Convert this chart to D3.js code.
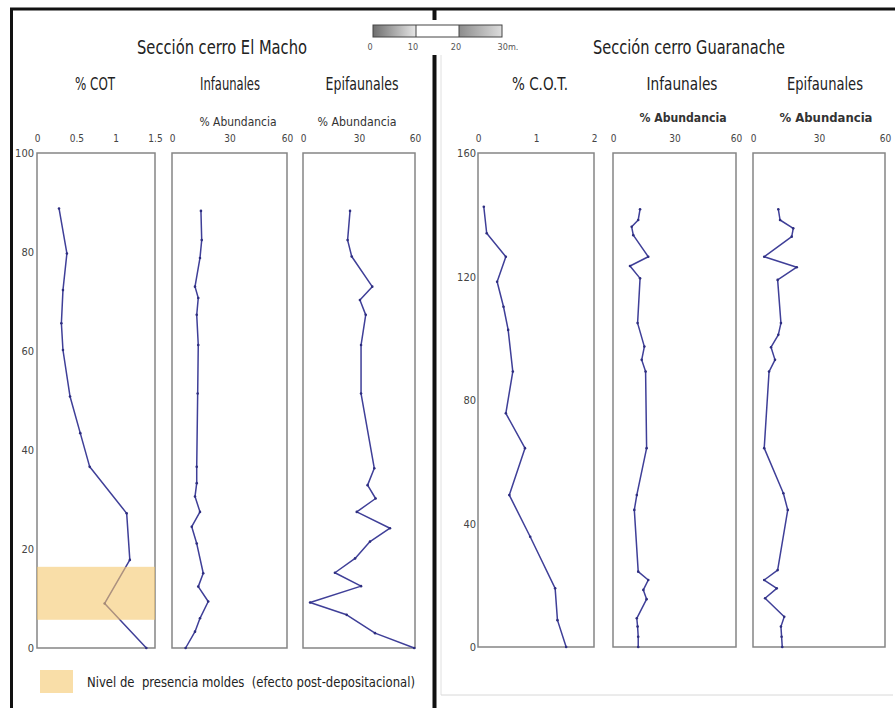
<!DOCTYPE html>
<html><head><meta charset="utf-8">
<script src="https://cdn.jsdelivr.net/npm/d3@7"></script>
<style>
html,body{margin:0;padding:0;background:#fff;}
svg{display:block;}
</style></head>
<body>
<svg id="chart" width="895" height="708"></svg>
<script>
// ---------- DATA ----------
// Sección cerro El Macho (depth in m, 0-100)
const machoDepthTicks = [0, 20, 40, 60, 80, 100];
const machoCOTTicks = [0, 0.5, 1, 1.5];
const machoAbTicks = [0, 30, 60];
const machoCOTDepth = [88.8, 79.7, 72.3, 65.6, 60.2, 50.8, 43.4, 36.6, 27.2, 17.8, 9.0, 0];
const machoCOT      = [0.28, 0.38, 0.33, 0.31, 0.33, 0.42, 0.55, 0.67, 1.14, 1.18, 0.86, 1.39];
const machoInfDepth = [88.3, 82.4, 78.8, 73.0, 70.7, 67.3, 61.2, 51.4, 36.6, 33.3, 30.6, 27.5, 24.5, 21.1, 15.1, 12.4, 9.4, 6.0, 3.3, 0];
const machoInf      = [15.1, 15.5, 14.6, 12.0, 13.7, 12.9, 13.7, 13.4, 12.9, 12.9, 12.0, 14.6, 10.3, 12.9, 16.3, 13.7, 18.9, 14.6, 12.0, 7.1];
const machoEpiDepth = [88.3, 82.4, 79.1, 73.0, 70.3, 67.3, 61.2, 51.4, 36.3, 32.9, 30.2, 27.5, 24.2, 21.5, 18.1, 15.2, 12.5, 9.2, 6.7, 3.0, 0];
const machoEpi      = [25.2, 23.9, 26.1, 37.1, 30.5, 33.6, 31.1, 31.1, 38.2, 34.6, 38.9, 28.8, 46.6, 35.9, 27.9, 17.1, 31.1, 3.8, 23.4, 38.6, 59.6];
const moldBand = [5.7, 16.4];

// Sección cerro Guaranache (depth in m, 0-160)
const guarDepthTicks = [0, 40, 80, 120, 160];
const guarCOTTicks = [0, 1, 2];
const guarAbTicks = [0, 30, 60];
const guarCOTDepth = [142.6, 134.0, 126.4, 118.3, 110.2, 102.7, 89.2, 75.7, 64.4, 49.2, 35.7, 19.0, 8.7, 0];
const guarCOT      = [0.10, 0.15, 0.48, 0.33, 0.44, 0.52, 0.60, 0.48, 0.81, 0.54, 0.90, 1.33, 1.37, 1.52];
const guarInfDepth = [141.8, 138.3, 136.1, 133.4, 126.4, 123.4, 119.4, 104.9, 97.3, 93.0, 89.2, 64.4, 49.2, 44.4, 24.4, 21.7, 18.5, 15.5, 9.3, 6.6, 3.3, 0];
const guarInf      = [13.2, 12.3, 9.1, 9.9, 17.2, 8.3, 13.2, 12.0, 15.3, 14.0, 15.9, 16.4, 11.6, 10.4, 12.3, 17.2, 14.8, 16.4, 11.6, 12.0, 12.3, 12.3];
const guarEpiDepth = [141.8, 138.3, 135.6, 132.9, 126.4, 123.0, 118.9, 104.9, 101.1, 97.1, 93.0, 89.2, 64.4, 49.8, 44.4, 24.9, 21.7, 19.0, 15.8, 9.8, 6.6, 3.3, 0];
const guarEpi      = [11.5, 12.3, 18.3, 17.6, 5.1, 19.9, 11.2, 12.7, 11.5, 8.2, 10.0, 7.3, 5.1, 13.8, 15.8, 11.2, 5.1, 10.8, 5.5, 14.2, 12.7, 13.0, 13.3];

// Scale bar
const scaleBarTicks = [0, 10, 20, 30];
const scaleBarLabels = ["0", "10", "20", "30m."];

// ---------- DRAWING ----------
const FONT = "'Liberation Sans Narrow','Arial Narrow','DejaVu Sans Condensed',sans-serif";
const LINE = "#3f3f98";
const svg = d3.select("#chart");
svg.append("rect").attr("width", 895).attr("height", 708).attr("fill", "#fff");

const defs = svg.append("defs");
const g1 = defs.append("linearGradient").attr("id", "sg1");
g1.append("stop").attr("offset", "0%").attr("stop-color", "#6e6e6e");
g1.append("stop").attr("offset", "100%").attr("stop-color", "#e6e6e6");
const g2 = defs.append("linearGradient").attr("id", "sg2");
g2.append("stop").attr("offset", "0%").attr("stop-color", "#8c8c8c");
g2.append("stop").attr("offset", "100%").attr("stop-color", "#dcdcdc");

// Frames
svg.append("line").attr("x1", 10).attr("x2", 895).attr("y1", 9).attr("y2", 9).attr("stroke", "#111").attr("stroke-width", 3);
svg.append("line").attr("x1", 11.5).attr("x2", 11.5).attr("y1", 8).attr("y2", 708).attr("stroke", "#111").attr("stroke-width", 3);
svg.append("line").attr("x1", 434.5).attr("x2", 434.5).attr("y1", 8).attr("y2", 20).attr("stroke", "#111").attr("stroke-width", 4);
svg.append("line").attr("x1", 434.5).attr("x2", 434.5).attr("y1", 55).attr("y2", 708).attr("stroke", "#111").attr("stroke-width", 4);
svg.append("line").attr("x1", 441).attr("x2", 441).attr("y1", 55).attr("y2", 695).attr("stroke", "#e0e0e0").attr("stroke-width", 1);
svg.append("line").attr("x1", 441).attr("x2", 893).attr("y1", 695).attr("y2", 695).attr("stroke", "#d8d8d8").attr("stroke-width", 1);

function txt(x, y, s, size, len, opts = {}) {
  const t = svg.append("text").attr("x", x).attr("y", y).text(s)
    .attr("font-family", FONT).attr("font-size", size)
    .attr("fill", opts.fill || "#222")
    .attr("font-weight", opts.bold ? "bold" : "normal")
    .attr("text-anchor", opts.anchor || "middle");
  if (len) t.attr("textLength", len).attr("lengthAdjust", "spacingAndGlyphs");
  return t;
}

// Scale bar
const sb = d3.scaleLinear().domain([0, 30]).range([373, 502]);
svg.append("rect").attr("x", sb(0)).attr("y", 25).attr("width", sb(10) - sb(0)).attr("height", 12).attr("fill", "url(#sg1)");
svg.append("rect").attr("x", sb(10)).attr("y", 25).attr("width", sb(20) - sb(10)).attr("height", 12).attr("fill", "#fff");
svg.append("rect").attr("x", sb(20)).attr("y", 25).attr("width", sb(30) - sb(20)).attr("height", 12).attr("fill", "url(#sg2)");
svg.append("rect").attr("x", sb(0)).attr("y", 25).attr("width", sb(30) - sb(0)).attr("height", 12).attr("fill", "none").attr("stroke", "#444").attr("stroke-width", 1);
svg.append("line").attr("x1", sb(10)).attr("x2", sb(10)).attr("y1", 25).attr("y2", 37).attr("stroke", "#444");
svg.append("line").attr("x1", sb(20)).attr("x2", sb(20)).attr("y1", 25).attr("y2", 37).attr("stroke", "#444");
scaleBarTicks.forEach((v, i) => {
  txt(sb(v) + (i === 3 ? 6 : -3), 50, scaleBarLabels[i], 9, null, { fill: "#555" });
});

function drawSection(cfg) {
  const y = d3.scaleLinear().domain(cfg.yDomain).range([cfg.yBottom, cfg.yTop]);
  const ya = svg.append("g").attr("transform", `translate(${cfg.yAxisX},0)`)
    .call(d3.axisLeft(y).tickValues(cfg.yTicks).tickSize(0).tickPadding(0));
  ya.select(".domain").remove();
  ya.selectAll("text").attr("font-family", FONT).attr("font-size", 11).attr("fill", "#444");

  cfg.panels.forEach(p => {
    const x = d3.scaleLinear().domain(p.domain).range(p.range);
    svg.append("rect").attr("x", p.range[0]).attr("y", cfg.yTop)
      .attr("width", p.range[1] - p.range[0]).attr("height", cfg.yBottom - cfg.yTop)
      .attr("fill", "#fff").attr("stroke", "#858585").attr("stroke-width", 1.5);
    const xa = svg.append("g").attr("transform", `translate(0,${cfg.yTop})`)
      .call(d3.axisTop(x).tickValues(p.ticks).tickSize(0).tickPadding(11).tickFormat(d3.format("~g")));
    xa.select(".domain").remove();
    xa.selectAll("text").attr("font-family", FONT).attr("font-size", 10).attr("fill", "#444");

    const pts = p.depth.map((d, i) => [x(p.values[i]), y(d)]);
    svg.append("path").attr("d", d3.line()(pts)).attr("fill", "none")
      .attr("stroke", LINE).attr("stroke-width", 1.5).attr("stroke-linejoin", "round");
    svg.append("g").selectAll("circle").data(pts).join("circle")
      .attr("cx", d => d[0]).attr("cy", d => d[1]).attr("r", 1.3).attr("fill", "#2e2e80");

    if (p.band) {
      svg.append("rect").attr("x", p.range[0]).attr("y", y(p.band[1]))
        .attr("width", p.range[1] - p.range[0]).attr("height", y(p.band[0]) - y(p.band[1]))
        .attr("fill", "rgb(245,200,110)").attr("fill-opacity", 0.6);
    }
    txt(p.titleX, 90, p.title, 18, p.titleLen);
    if (p.sub) txt(p.subX, p.subY, p.sub, p.subBold ? 13 : 12, p.subLen, { bold: p.subBold, fill: "#333" });
  });
  txt(cfg.titleX, 54, cfg.title, 20, cfg.titleLen);
}

drawSection({
  title: "Sección cerro El Macho", titleX: 222, titleLen: 170,
  yDomain: [0, 100], yBottom: 648, yTop: 153, yTicks: machoDepthTicks, yAxisX: 34,
  panels: [
    { depth: machoCOTDepth, values: machoCOT, domain: [0, 1.5], range: [37, 155], ticks: machoCOTTicks,
      title: "% COT", titleX: 95, titleLen: 40, band: moldBand },
    { depth: machoInfDepth, values: machoInf, domain: [0, 60], range: [172, 287], ticks: machoAbTicks,
      title: "Infaunales", titleX: 230, titleLen: 60, sub: "% Abundancia", subX: 238, subY: 126, subLen: 77 },
    { depth: machoEpiDepth, values: machoEpi, domain: [0, 60], range: [303, 415], ticks: machoAbTicks,
      title: "Epifaunales", titleX: 362, titleLen: 73, sub: "% Abundancia", subX: 357, subY: 126, subLen: 79 }
  ]
});

drawSection({
  title: "Sección cerro Guaranache", titleX: 689, titleLen: 192,
  yDomain: [0, 160], yBottom: 647, yTop: 153, yTicks: guarDepthTicks, yAxisX: 476,
  panels: [
    { depth: guarCOTDepth, values: guarCOT, domain: [0, 2], range: [478, 594], ticks: guarCOTTicks,
      title: "% C.O.T.", titleX: 540, titleLen: 56 },
    { depth: guarInfDepth, values: guarInf, domain: [0, 60], range: [613, 736], ticks: guarAbTicks,
      title: "Infaunales", titleX: 682, titleLen: 71, sub: "% Abundancia", subX: 683, subY: 122, subLen: 87, subBold: true },
    { depth: guarEpiDepth, values: guarEpi, domain: [0, 60], range: [753, 885], ticks: guarAbTicks,
      title: "Epifaunales", titleX: 825, titleLen: 76, sub: "% Abundancia", subX: 826, subY: 122, subLen: 93, subBold: true }
  ]
});

// Legend
svg.append("rect").attr("x", 40).attr("y", 670).attr("width", 33).attr("height", 23)
  .attr("fill", "rgb(245,200,110)").attr("fill-opacity", 0.6);
txt(87, 687, "Nivel de  presencia moldes  (efecto post-depositacional)", 14, 328, { anchor: "start" })
  .attr("xml:space", "preserve").style("white-space", "pre");
</script>
</body></html>
